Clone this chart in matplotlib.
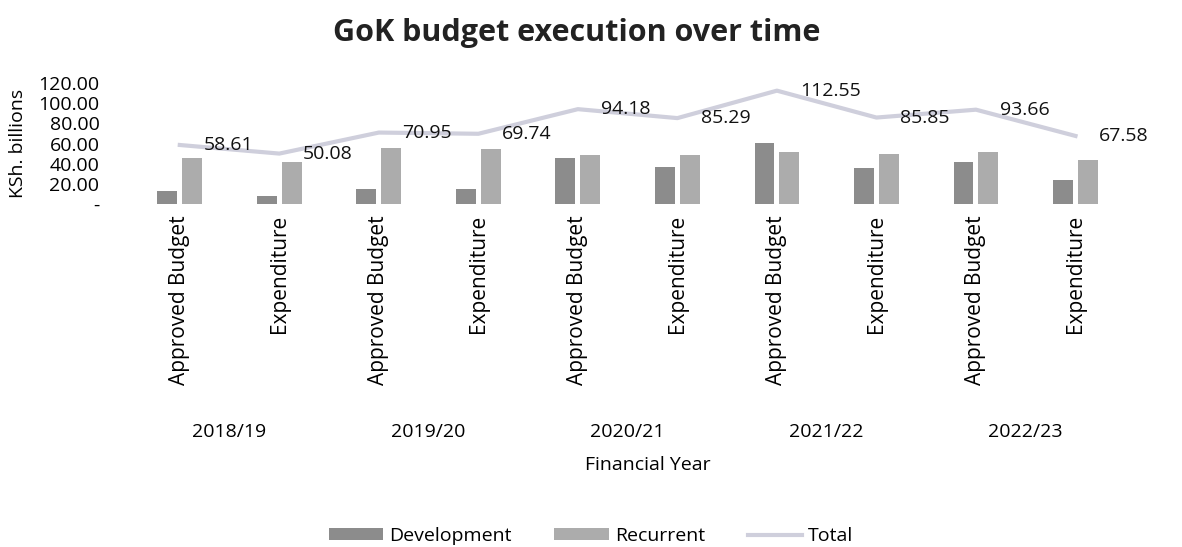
import matplotlib
matplotlib.use("Agg")
import matplotlib.pyplot as plt
import matplotlib.transforms as mtransforms
import numpy as np

years = ["2018/19", "2019/20", "2020/21", "2021/22", "2022/23"]
stages = ["Approved Budget", "Expenditure"]
development = [13.0, 8.0, 15.0, 15.0, 46.0, 37.0, 61.0, 36.0, 42.0, 23.5]
recurrent = [45.6, 42.1, 55.95, 54.74, 48.18, 48.29, 51.55, 49.85, 51.66, 44.08]
total = [58.61, 50.08, 70.95, 69.74, 94.18, 85.29, 112.55, 85.85, 93.66, 67.58]

plt.rcParams['font.family'] = ['Open Sans', 'DejaVu Sans']

fig = plt.figure(figsize=(11.82, 5.47), dpi=100)
ax = fig.add_axes([0.110, 0.627, 0.842, 0.221])

x = np.arange(len(total))
w = 0.2
b1 = ax.bar(x - 0.125, development, w, color='#8c8c8c', label='Development')
b2 = ax.bar(x + 0.125, recurrent, w, color='#acacac', label='Recurrent')
l1, = ax.plot(x, total, color='#cfcfdc', lw=3, label='Total')
for xi, v in zip(x, total):
    ax.annotate(f"{v:.2f}", (xi, v), xytext=(17, 0), textcoords='offset points',
                ha='left', va='center', fontsize=14, color='#111111')

ax.set_xlim(-0.5, len(total) - 0.5)
ax.set_ylim(0, 120)
ax.set_yticks(np.arange(0, 121, 20))
ax.set_yticklabels(['-' if t == 0 else f"{t:.2f}" for t in range(0, 121, 20)], fontsize=14)
ax.set_xticks(x)
ax.set_xticklabels(stages * len(years), rotation=90, fontsize=15, va='top')
ax.tick_params(length=0, pad=8)
ax.tick_params(axis='y', pad=22)
for s in ax.spines.values():
    s.set_visible(False)
ax.set_ylabel("KSh. billions", fontsize=14, labelpad=8)

trans = mtransforms.blended_transform_factory(ax.transData, fig.transFigure)
for i, yr in enumerate(years):
    ax.text(2 * i + 0.5, 0.21, yr, transform=trans, ha='center', va='center', fontsize=14)

fig.text(0.548, 0.15, "Financial Year", ha='center', va='center', fontsize=14)
fig.text(0.488, 0.94, "GoK budget execution over time", ha='center', va='center',
         fontsize=22, fontweight='bold', color='#222222')

fig.legend([b1, b2, l1], ['Development', 'Recurrent', 'Total'], loc='center',
           bbox_to_anchor=(0.5, 0.02), ncol=3, frameon=False, fontsize=14,
           handlelength=2.8, handleheight=0.55, handletextpad=0.3, columnspacing=2.2)

fig.savefig("out.png", dpi=100, facecolor='white')
